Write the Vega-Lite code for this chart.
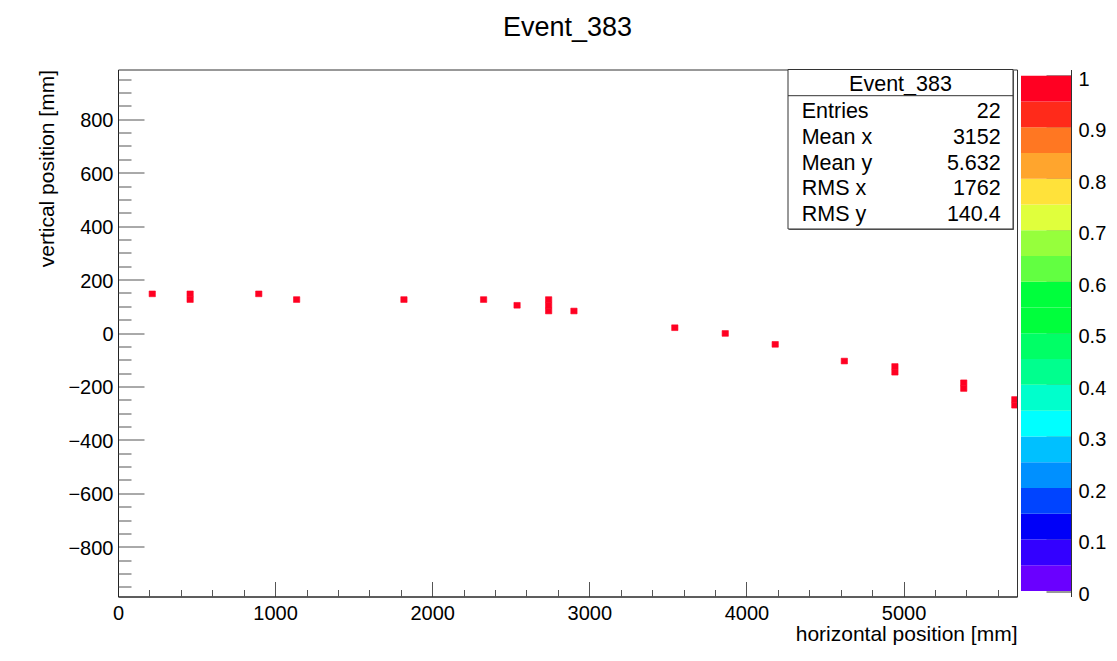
{
  "$schema": "https://vega.github.io/schema/vega-lite/v6.json",
  "width": 899,
  "height": 527,
  "autosize": {"type": "none"},
  "padding": {"left": 118, "top": 69.5, "right": 100, "bottom": 64.5},
  "background": "white",
  "title": {"text": "Event_383", "fontSize": 27, "font": "Liberation Sans", "fontWeight": "normal", "color": "black", "frame": "group", "anchor": "middle", "offset": 27},
  "config": {
    "font": "Liberation Sans",
    "view": {"stroke": "#333", "strokeWidth": 1},
    "axis": {"grid": false, "labelFont": "Liberation Sans", "titleFont": "Liberation Sans", "labelFontSize": 20, "titleFontSize": 21, "titleFontWeight": "normal", "labelColor": "black", "titleColor": "black", "tickColor": "#555", "domainColor": "#222", "labelFlush": false, "labelOverlap": false}
  },
  "datasets": {
    "bins": [
      {"x1": 198, "x2": 238, "y1": 135.8, "y2": 157.2, "z": 1},
      {"x1": 439, "x2": 479, "y1": 114.4, "y2": 135.8, "z": 1},
      {"x1": 439, "x2": 479, "y1": 135.8, "y2": 157.2, "z": 1},
      {"x1": 876, "x2": 916, "y1": 135.8, "y2": 157.2, "z": 1},
      {"x1": 1117, "x2": 1157, "y1": 114.4, "y2": 135.8, "z": 1},
      {"x1": 1800, "x2": 1840, "y1": 114.4, "y2": 135.8, "z": 1},
      {"x1": 2307, "x2": 2347, "y1": 114.4, "y2": 135.8, "z": 1},
      {"x1": 2520, "x2": 2560, "y1": 93, "y2": 114.4, "z": 1},
      {"x1": 2721, "x2": 2761, "y1": 71.6, "y2": 93, "z": 1},
      {"x1": 2721, "x2": 2761, "y1": 93, "y2": 114.4, "z": 1},
      {"x1": 2721, "x2": 2761, "y1": 114.4, "y2": 135.8, "z": 1},
      {"x1": 2882, "x2": 2922, "y1": 71.6, "y2": 93, "z": 1},
      {"x1": 3524, "x2": 3564, "y1": 9.1, "y2": 30.5, "z": 1},
      {"x1": 3845, "x2": 3885, "y1": -12.3, "y2": 9.1, "z": 1},
      {"x1": 4163, "x2": 4203, "y1": -53.2, "y2": -31.8, "z": 1},
      {"x1": 4603, "x2": 4643, "y1": -115.7, "y2": -94.3, "z": 1},
      {"x1": 4925, "x2": 4965, "y1": -157.4, "y2": -136, "z": 1},
      {"x1": 4925, "x2": 4965, "y1": -136, "y2": -114.6, "z": 1},
      {"x1": 5363, "x2": 5403, "y1": -218.4, "y2": -197, "z": 1},
      {"x1": 5363, "x2": 5403, "y1": -197, "y2": -175.6, "z": 1},
      {"x1": 5688, "x2": 5728, "y1": -280.9, "y2": -259.5, "z": 1},
      {"x1": 5688, "x2": 5728, "y1": -259.5, "y2": -238.1, "z": 1}
    ],
    "stats": [
      {"stat": "Entries", "value": "22"},
      {"stat": "Mean x", "value": "3152"},
      {"stat": "Mean y", "value": "5.632"},
      {"stat": "RMS x", "value": "1762"},
      {"stat": "RMS y", "value": "140.4"}
    ],
    "palette": [
      {"lo": 0, "hi": 0.05}, {"lo": 0.05, "hi": 0.1}, {"lo": 0.1, "hi": 0.15}, {"lo": 0.15, "hi": 0.2},
      {"lo": 0.2, "hi": 0.25}, {"lo": 0.25, "hi": 0.3}, {"lo": 0.3, "hi": 0.35}, {"lo": 0.35, "hi": 0.4},
      {"lo": 0.4, "hi": 0.45}, {"lo": 0.45, "hi": 0.5}, {"lo": 0.5, "hi": 0.55}, {"lo": 0.55, "hi": 0.6},
      {"lo": 0.6, "hi": 0.65}, {"lo": 0.65, "hi": 0.7}, {"lo": 0.7, "hi": 0.75}, {"lo": 0.75, "hi": 0.8},
      {"lo": 0.8, "hi": 0.85}, {"lo": 0.85, "hi": 0.9}, {"lo": 0.9, "hi": 0.95}, {"lo": 0.95, "hi": 1}
    ]
  },
  "layer": [
    {
      "layer": [
        {
          "data": {"name": "bins"},
          "mark": {"type": "rect", "clip": true, "stroke": "#ff0022", "strokeWidth": 0.6},
          "encoding": {
            "x": {"field": "x1", "type": "quantitative", "scale": {"domain": [0, 5722], "nice": false, "zero": false},
                  "axis": {"orient": "bottom", "values": [0, 1000, 2000, 3000, 4000, 5000], "format": "d", "tickSize": -15, "labelPadding": 22, "title": "horizontal position [mm]", "titleAnchor": "end", "titlePadding": 0}},
            "x2": {"field": "x2"},
            "y": {"field": "y1", "type": "quantitative", "scale": {"domain": [-986, 986], "nice": false, "zero": false},
                  "axis": {"orient": "left", "values": [-800, -600, -400, -200, 0, 200, 400, 600, 800], "format": "d", "tickSize": -26, "labelPadding": 31, "labelOffset": 1.5, "title": "vertical position [mm]", "titleAnchor": "end", "titlePadding": 10}},
            "y2": {"field": "y2"},
            "color": {"field": "z", "type": "quantitative", "legend": null,
                      "scale": {"type": "threshold", "domain": [0.05, 0.1, 0.15, 0.2, 0.25, 0.3, 0.35, 0.4, 0.45, 0.5, 0.55, 0.6, 0.65, 0.7, 0.75, 0.8, 0.85, 0.9, 0.95],
                                "range": ["#6a00ff", "#3300ff", "#0000f8", "#0044ff", "#0090ff", "#00c0ff", "#00ffff", "#00ffcc", "#00ff8e", "#00ff66", "#00ff3c", "#00ff3c", "#62ff41", "#96ff3c", "#e0ff3c", "#ffe23a", "#ffa52d", "#ff7722", "#ff2a1a", "#ff0022"]}}
          }
        },
        {
          "data": {"name": "bins"},
          "mark": {"type": "point", "opacity": 0},
          "encoding": {
            "x": {"field": "x1", "type": "quantitative",
                  "axis": {"orient": "bottom", "values": [200, 400, 600, 800, 1200, 1400, 1600, 1800, 2200, 2400, 2600, 2800, 3200, 3400, 3600, 3800, 4200, 4400, 4600, 4800, 5200, 5400, 5600], "tickSize": -7, "labels": false, "domain": false, "title": null}},
            "y": {"field": "y1", "type": "quantitative",
                  "axis": {"orient": "left", "values": [-950, -900, -850, -750, -700, -650, -550, -500, -450, -350, -300, -250, -150, -100, -50, 50, 100, 150, 250, 300, 350, 450, 500, 550, 650, 700, 750, 850, 900, 950], "tickSize": -13, "labels": false, "domain": false, "title": null}}
          }
        },
        {
          "data": {"values": [{}]},
          "mark": {"type": "rect", "fill": "#666"},
          "encoding": {
            "x": {"datum": 4272, "type": "quantitative", "axis": null},
            "x2": {"datum": 5703},
            "y": {"datum": 385, "type": "quantitative", "axis": null},
            "y2": {"datum": 981}
          }
        },
        {
          "data": {"values": [{}]},
          "mark": {"type": "rect", "fill": "white", "stroke": "#333", "strokeWidth": 1},
          "encoding": {
            "x": {"datum": 4264.5, "type": "quantitative", "axis": null},
            "x2": {"datum": 5696.6},
            "y": {"datum": 389.2, "type": "quantitative", "axis": null},
            "y2": {"datum": 986}
          }
        },
        {
          "data": {"values": [{}]},
          "mark": {"type": "rule", "stroke": "#333", "strokeWidth": 1},
          "encoding": {
            "x": {"datum": 4264.5, "type": "quantitative", "axis": null},
            "x2": {"datum": 5696.6},
            "y": {"datum": 888, "type": "quantitative", "axis": null}
          }
        },
        {
          "data": {"values": [{}]},
          "mark": {"type": "text", "text": "Event_383", "align": "center", "baseline": "alphabetic", "fontSize": 21.5, "color": "black"},
          "encoding": {
            "x": {"datum": 4980.5, "type": "quantitative", "axis": null},
            "y": {"datum": 906.7, "type": "quantitative", "axis": null}
          }
        },
        {
          "data": {"name": "stats"},
          "transform": [{"filter": "datum.stat == 'Entries'"}],
          "encoding": {"y": {"datum": 803.4, "type": "quantitative", "axis": null}},
          "layer": [
            {"mark": {"type": "text", "align": "left", "baseline": "alphabetic", "fontSize": 21.5, "color": "black"}, "encoding": {"x": {"datum": 4351.7, "type": "quantitative", "axis": null}, "text": {"field": "stat"}}},
            {"mark": {"type": "text", "align": "right", "baseline": "alphabetic", "fontSize": 21.5, "color": "black"}, "encoding": {"x": {"datum": 5618.4, "type": "quantitative", "axis": null}, "text": {"field": "value"}}}
          ]
        },
        {
          "data": {"name": "stats"},
          "transform": [{"filter": "datum.stat == 'Mean x'"}],
          "encoding": {"y": {"datum": 707.2, "type": "quantitative", "axis": null}},
          "layer": [
            {"mark": {"type": "text", "align": "left", "baseline": "alphabetic", "fontSize": 21.5, "color": "black"}, "encoding": {"x": {"datum": 4351.7, "type": "quantitative", "axis": null}, "text": {"field": "stat"}}},
            {"mark": {"type": "text", "align": "right", "baseline": "alphabetic", "fontSize": 21.5, "color": "black"}, "encoding": {"x": {"datum": 5618.4, "type": "quantitative", "axis": null}, "text": {"field": "value"}}}
          ]
        },
        {
          "data": {"name": "stats"},
          "transform": [{"filter": "datum.stat == 'Mean y'"}],
          "encoding": {"y": {"datum": 611.1, "type": "quantitative", "axis": null}},
          "layer": [
            {"mark": {"type": "text", "align": "left", "baseline": "alphabetic", "fontSize": 21.5, "color": "black"}, "encoding": {"x": {"datum": 4351.7, "type": "quantitative", "axis": null}, "text": {"field": "stat"}}},
            {"mark": {"type": "text", "align": "right", "baseline": "alphabetic", "fontSize": 21.5, "color": "black"}, "encoding": {"x": {"datum": 5618.4, "type": "quantitative", "axis": null}, "text": {"field": "value"}}}
          ]
        },
        {
          "data": {"name": "stats"},
          "transform": [{"filter": "datum.stat == 'RMS x'"}],
          "encoding": {"y": {"datum": 514.9, "type": "quantitative", "axis": null}},
          "layer": [
            {"mark": {"type": "text", "align": "left", "baseline": "alphabetic", "fontSize": 21.5, "color": "black"}, "encoding": {"x": {"datum": 4351.7, "type": "quantitative", "axis": null}, "text": {"field": "stat"}}},
            {"mark": {"type": "text", "align": "right", "baseline": "alphabetic", "fontSize": 21.5, "color": "black"}, "encoding": {"x": {"datum": 5618.4, "type": "quantitative", "axis": null}, "text": {"field": "value"}}}
          ]
        },
        {
          "data": {"name": "stats"},
          "transform": [{"filter": "datum.stat == 'RMS y'"}],
          "encoding": {"y": {"datum": 418.7, "type": "quantitative", "axis": null}},
          "layer": [
            {"mark": {"type": "text", "align": "left", "baseline": "alphabetic", "fontSize": 21.5, "color": "black"}, "encoding": {"x": {"datum": 4351.7, "type": "quantitative", "axis": null}, "text": {"field": "stat"}}},
            {"mark": {"type": "text", "align": "right", "baseline": "alphabetic", "fontSize": 21.5, "color": "black"}, "encoding": {"x": {"datum": 5618.4, "type": "quantitative", "axis": null}, "text": {"field": "value"}}}
          ]
        }
      ],
      "resolve": {"axis": {"x": "independent", "y": "independent"}}
    },
    {
      "data": {"name": "palette"},
      "mark": {"type": "rect"},
      "encoding": {
        "x": {"datum": 0, "type": "quantitative", "scale": {"domain": [-18.06, -0.08], "nice": false, "zero": false}, "axis": null},
        "x2": {"datum": 1},
        "y": {"field": "lo", "type": "quantitative", "scale": {"domain": [-0.01067, 1.012], "nice": false, "zero": false},
              "axis": {"orient": "right", "offset": 54, "values": [0, 0.1, 0.2, 0.3, 0.4, 0.5, 0.6, 0.7, 0.8, 0.9, 1], "format": "~g", "tickSize": -25, "labelPadding": 32, "labelOffset": 3.5, "title": null, "domainColor": "#333", "tickColor": "#333"}},
        "y2": {"field": "hi"},
        "color": {"field": "lo", "type": "quantitative", "legend": null,
                  "scale": {"type": "threshold", "domain": [0.05, 0.1, 0.15, 0.2, 0.25, 0.3, 0.35, 0.4, 0.45, 0.5, 0.55, 0.6, 0.65, 0.7, 0.75, 0.8, 0.85, 0.9, 0.95],
                            "range": ["#6a00ff", "#3300ff", "#0000f8", "#0044ff", "#0090ff", "#00c0ff", "#00ffff", "#00ffcc", "#00ff8e", "#00ff66", "#00ff3c", "#00ff3c", "#62ff41", "#96ff3c", "#e0ff3c", "#ffe23a", "#ffa52d", "#ff7722", "#ff2a1a", "#ff0022"]}}
      }
    }
  ],
  "resolve": {"scale": {"x": "independent", "y": "independent", "color": "independent"}, "axis": {"x": "independent", "y": "independent"}}
}
